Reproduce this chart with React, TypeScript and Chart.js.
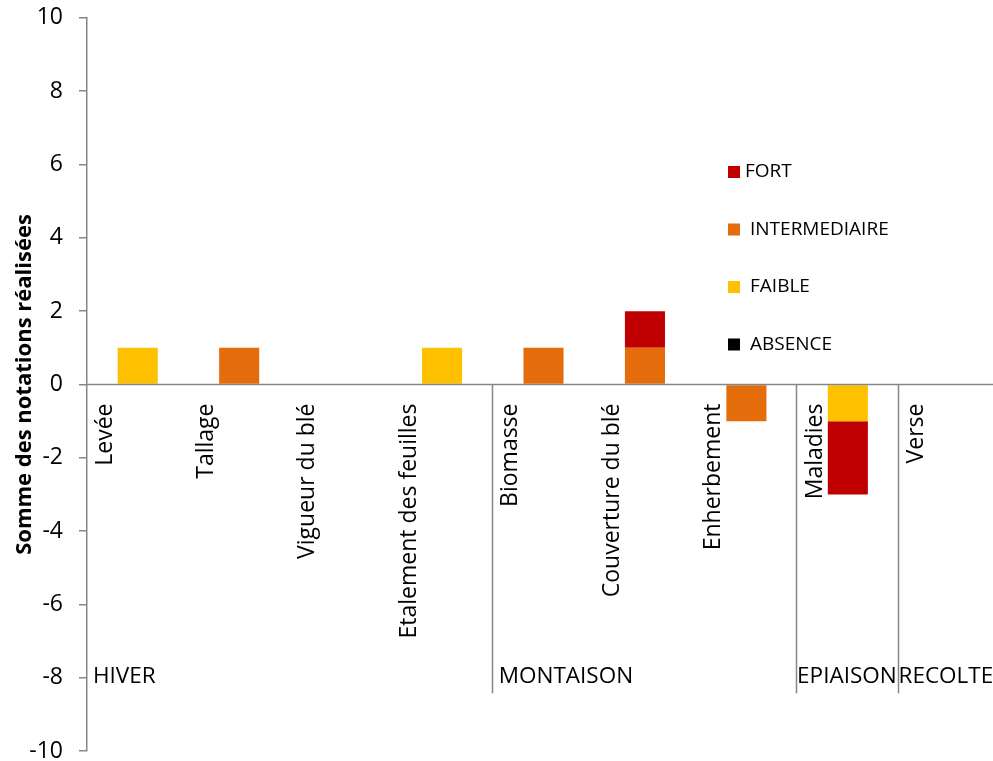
import React, { useEffect, useRef } from "react";
import { Chart, registerables } from "chart.js";

Chart.register(...registerables);

const categories = [
  "Levée",
  "Tallage",
  "Vigueur du blé",
  "Etalement des feuilles",
  "Biomasse",
  "Couverture du blé",
  "Enherbement",
  "Maladies",
  "Verse",
];

const absence = [0, 0, 0, 0, 0, 0, 0, 0, 0];
const faible = [1, 0, 0, 1, 0, 0, 0, -1, 0];
const intermediaire = [0, 1, 0, 0, 1, 1, -1, 0, 0];
const fort = [0, 0, 0, 0, 0, 1, 0, -2, 0];

const groupLabels = ["HIVER", "MONTAISON", "EPIAISON", "RECOLTE"];
const groupStarts = [0, 4, 7, 8];

const yTicks = [-10, -8, -6, -4, -2, 0, 2, 4, 6, 8, 10];

const FONT = "'Open Sans', 'Noto Sans', sans-serif";

const overlayPlugin = {
  id: "overlay",
  afterDatasetsDraw(chart: any) {
    const { ctx, chartArea } = chart;
    const x = chart.scales.x;
    const y = chart.scales.y;
    const n = categories.length;
    const w = (chartArea.right - chartArea.left) / n;
    const zero = y.getPixelForValue(0);
    ctx.save();
    // zero line
    ctx.strokeStyle = "#868686";
    ctx.lineWidth = 1.5;
    ctx.beginPath();
    ctx.moveTo(chartArea.left, zero);
    ctx.lineTo(chartArea.right, zero);
    ctx.stroke();
    // separators
    const sepBottom = y.getPixelForValue(-8.42);
    groupStarts.forEach((s) => {
      if (s === 0) return;
      const px = Math.round(chartArea.left + s * w) - 0.5;
      ctx.beginPath();
      ctx.moveTo(px, zero);
      ctx.lineTo(px, sepBottom);
      ctx.stroke();
    });
    // group labels
    ctx.fillStyle = "#000";
    ctx.font = `22.5px ${FONT}`;
    ctx.textAlign = "left";
    ctx.textBaseline = "middle";
    const gy = y.getPixelForValue(-8) - 1;
    groupStarts.forEach((s, i) => {
      const span = (i + 1 < groupStarts.length ? groupStarts[i + 1] : n) - s;
      const off = span > 1 ? 6 : 0;
      ctx.fillText(groupLabels[i], chartArea.left + s * w + off, gy);
    });
    // category labels
    ctx.font = `23px ${FONT}`;
    categories.forEach((c, i) => {
      const cx = x.getPixelForValue(i) - w / 2 + 18;
      ctx.save();
      ctx.translate(cx, zero + 19);
      ctx.rotate(-Math.PI / 2);
      ctx.textAlign = "right";
      ctx.textBaseline = "middle";
      ctx.fillText(c, 0, 0);
      ctx.restore();
    });
    // legend
    const ds = chart.data.datasets.slice().reverse();
    ctx.font = `19px ${FONT}`;
    ctx.textAlign = "left";
    ctx.textBaseline = "middle";
    const lx = 728;
    const ly0 = 172 - chart.canvas.offsetTop;
    ds.forEach((d: any, i: number) => {
      const ly = ly0 + i * 57.5;
      ctx.fillStyle = d.backgroundColor;
      ctx.fillRect(lx, ly - 6, 12, 12);
      ctx.fillStyle = "#000";
      ctx.fillText(d.label, lx + (i === 0 ? 17 : 22), ly);
    });
    ctx.restore();
  },
};

export default function App() {
  const ref = useRef<HTMLCanvasElement>(null);
  useEffect(() => {
    if (!ref.current) return;
    const chart = new Chart(ref.current, {
      type: "bar",
      data: {
        labels: categories,
        datasets: [
          { label: "ABSENCE", data: absence, backgroundColor: "#000000" },
          { label: "FAIBLE", data: faible, backgroundColor: "#FFC000" },
          { label: "INTERMEDIAIRE", data: intermediaire, backgroundColor: "#E46C0A" },
          { label: "FORT", data: fort, backgroundColor: "#C00000" },
        ],
      },
      options: {
        animation: false,
        responsive: false,
        maintainAspectRatio: false,
        layout: { padding: { top: 4, bottom: 0, left: 0, right: 0 } },
        plugins: { legend: { display: false }, tooltip: { enabled: false } },
        datasets: { bar: { barPercentage: 0.395, categoryPercentage: 1 } },
        scales: {
          x: {
            stacked: true,
            display: false,
          },
          y: {
            stacked: true,
            min: -10,
            max: 10,
            afterFit(scale: any) {
              scale.width = 87;
            },
            afterBuildTicks(scale: any) {
              scale.ticks = yTicks.map((v) => ({ value: v }));
            },
            border: { display: true, color: "#868686", width: 1.5 },
            grid: {
              drawOnChartArea: false,
              drawTicks: true,
              tickLength: 8,
              color: "#868686",
              lineWidth: 1.5,
            },
            ticks: {
              color: "#000",
              padding: 16,
              font: { family: FONT, size: 23 },
            },
            title: {
              display: true,
              text: "Somme des notations réalisées",
              color: "#000",
              font: { family: FONT, size: 22, weight: "bold" },
              padding: { top: 12, bottom: 0 },
            },
          },
        },
      },
      plugins: [overlayPlugin],
    });
    return () => chart.destroy();
  }, []);
  return (
    <div style={{ position: "fixed", left: 0, top: 0, width: 1000, height: 761, overflow: "hidden", background: "#fff" }}>
      <canvas
        ref={ref}
        width={1000}
        height={793}
        style={{ position: "absolute", left: 0, top: -12, width: 1000, height: 793 }}
      />
    </div>
  );
}
